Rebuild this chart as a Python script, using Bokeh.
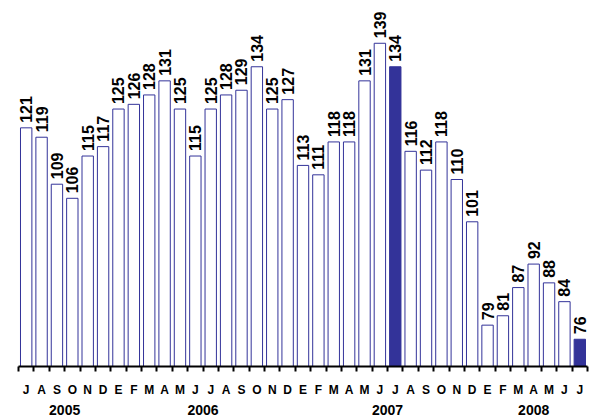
import math
from bokeh.plotting import figure
from bokeh.models import FixedTicker, LinearAxis, Range1d, ColumnDataSource
from bokeh.core.properties import value
from bokeh.embed import file_html
from bokeh.resources import INLINE

# ---- data ----
years = ["2005", "2006", "2007", "2008"]
year_months = [
    ["J", "A", "S", "O", "N", "D"],
    ["E", "F", "M", "A", "M", "J", "J", "A", "S", "O", "N", "D"],
    ["E", "F", "M", "A", "M", "J", "J", "A", "S", "O", "N", "D"],
    ["E", "F", "M", "A", "M", "J", "J"],
]
values = [121, 119, 109, 106, 115, 117,
          125, 126, 128, 131, 125, 115, 125, 128, 129, 134, 125, 127,
          113, 111, 118, 118, 131, 139, 134, 116, 112, 118, 110, 101,
          79, 81, 87, 92, 88, 84, 76]
highlight_periods = [("2007", 6), ("2008", 6)]  # July 2007, July 2008

# ---- build ----
months = []
periods = []
for y, ms in zip(years, year_months):
    for k, m in enumerate(ms):
        months.append(m)
        mnum = k if y != "2005" else k + 6
        periods.append((y, mnum))

n = len(values)
xs = list(range(n))
fill = ["#333399" if per in highlight_periods else "white" for per in periods]

src = ColumnDataSource(dict(x=xs, top=values, fill=fill,
                            label=[str(v) for v in values]))

Y0 = 70.2
p = figure(width=592, height=418, output_backend="svg", toolbar_location=None,
           x_range=Range1d(-0.5, n - 0.5), y_range=Range1d(Y0, 146.4),
           y_axis_location=None, min_border_left=18, min_border_right=5,
           min_border_top=8, min_border_bottom=52)
p.outline_line_color = None
p.xgrid.grid_line_color = None
p.ygrid.grid_line_color = None
p.background_fill_color = "white"
p.border_fill_color = "white"

p.vbar(x="x", top="top", bottom=Y0, width=0.74, source=src,
       fill_color="fill", line_color="#333399", line_width=1)

p.text(x="x", y="top", text="label", source=src, angle=math.pi / 2,
       text_align="left", text_baseline="middle", y_offset=-5,
       text_font=value("Liberation Sans"), text_font_style="bold",
       text_font_size="16px", text_color="black")

# month axis
ax = p.xaxis[0]
ax.ticker = FixedTicker(ticks=xs, minor_ticks=[i - 0.5 for i in range(n + 1)])
ax.major_label_overrides = {i: months[i] for i in xs}
ax.axis_line_color = "black"
ax.axis_line_width = 2
ax.major_tick_line_color = None
ax.major_tick_out = 5
ax.major_tick_in = 0
ax.minor_tick_line_color = "black"
ax.minor_tick_line_width = 2
ax.minor_tick_out = 5
ax.minor_tick_in = 0
ax.major_label_standoff = 11
ax.major_label_text_font = "Liberation Sans"
ax.major_label_text_font_style = "bold"
ax.major_label_text_font_size = "12px"
ax.major_label_text_color = "black"

# year axis
centers = []
start = 0
for ms in year_months:
    centers.append(start + (len(ms) - 1) / 2)
    start += len(ms)
yax = LinearAxis(ticker=FixedTicker(ticks=centers, minor_ticks=[]),
                 major_label_overrides={c: y for c, y in zip(centers, years)})
yax.axis_line_color = None
yax.major_tick_line_color = None
yax.minor_tick_line_color = None
yax.major_tick_out = 0
yax.major_tick_in = 0
yax.major_label_standoff = 5
yax.major_label_text_font = "Liberation Sans"
yax.major_label_text_font_style = "bold"
yax.major_label_text_font_size = "14px"
yax.major_label_text_color = "black"
p.add_layout(yax, "below")

open("out.html", "w").write(file_html(p, INLINE))
